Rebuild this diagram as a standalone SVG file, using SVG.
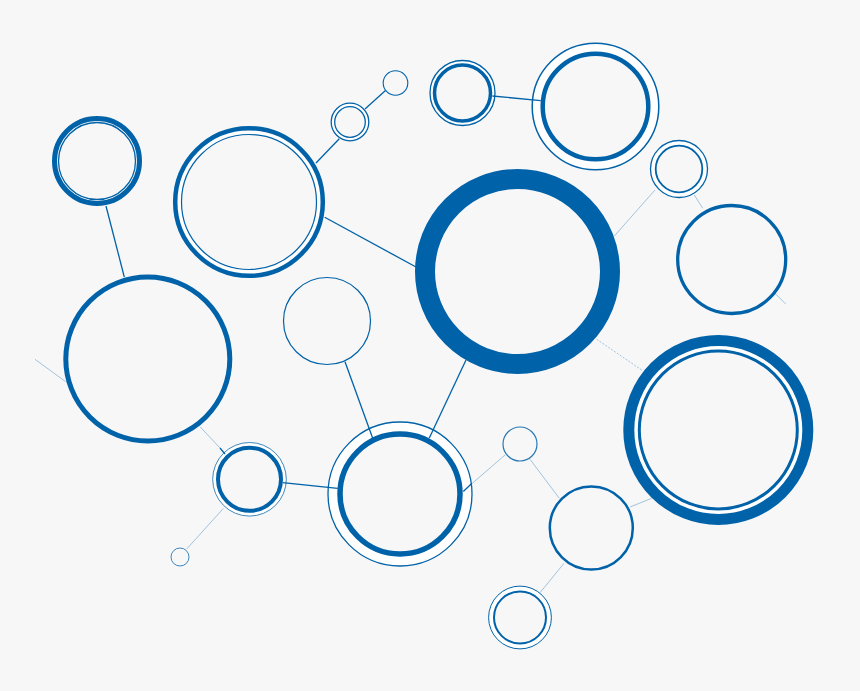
<svg xmlns="http://www.w3.org/2000/svg" width="860" height="691" viewBox="0 0 860 691">
<style>
.o{fill:#ffffff;stroke:#0062a8}
.i{fill:#f7f7f8;stroke:#0062a8}
.s{fill:none;stroke:#0062a8}
.d{stroke:#0062a8;stroke-width:1.3;fill:none}
.f{stroke:#0062a8;stroke-width:1;opacity:0.35;fill:none}
</style>
<rect width="860" height="691" fill="#f7f7f8"/>
<g id="c1"><circle class="o" cx="97" cy="161" r="42.5" stroke-width="5"/><circle class="i" cx="97" cy="161" r="38.5" stroke-width="1.3"/></g>
<g id="c2"><circle class="o" cx="249" cy="202" r="73.8" stroke-width="4.5"/><circle class="i" cx="249" cy="202" r="67.5" stroke-width="1.2"/></g>
<g id="c3"><circle class="o" cx="350" cy="122" r="18.8" stroke-width="1.3"/><circle class="i" cx="350" cy="122" r="15.3" stroke-width="1.3"/></g>
<g id="c4"><circle class="s" cx="395.5" cy="83" r="12.3" stroke-width="1.1"/></g>
<g id="c5"><circle class="o" cx="462.5" cy="93" r="32.5" stroke-width="1.3"/><circle class="i" cx="462.5" cy="93" r="28" stroke-width="3.5"/></g>
<g id="c6"><circle class="o" cx="595.5" cy="106.5" r="63.3" stroke-width="1.5"/><circle class="i" cx="595.5" cy="106.5" r="52.8" stroke-width="4.5"/></g>
<g id="c7"><circle class="s" cx="517.5" cy="271.5" r="92.5" stroke-width="20"/></g>
<g id="c8"><circle class="o" cx="679" cy="169" r="28.5" stroke-width="1.3"/><circle class="i" cx="679" cy="169" r="23.3" stroke-width="1.8"/></g>
<g id="c9"><circle class="s" cx="731.7" cy="259.5" r="54" stroke-width="3.3"/></g>
<g id="c10"><circle class="o" cx="718.3" cy="430" r="89.5" stroke-width="11"/><circle class="i" cx="718.3" cy="430" r="79" stroke-width="3"/></g>
<g id="c11"><circle class="s" cx="147.8" cy="359" r="82" stroke-width="5"/></g>
<g id="c12"><circle class="s" cx="327" cy="321" r="43.5" stroke-width="1.2"/></g>
<g id="c13"><circle class="o" cx="249.5" cy="479.3" r="36.8" stroke-width="1" stroke-opacity="0.75"/><circle class="i" cx="249.5" cy="479.3" r="31.5" stroke-width="4"/></g>
<g id="c14"><circle class="s" cx="180" cy="557" r="9" stroke-width="1" stroke-opacity="0.75"/></g>
<g id="c15"><circle class="o" cx="400" cy="494" r="72" stroke-width="1.3"/><circle class="i" cx="400" cy="494" r="60" stroke-width="5.5"/></g>
<g id="c16"><circle class="s" cx="520" cy="444" r="17" stroke-width="1.2" stroke-opacity="0.85"/></g>
<g id="c17"><circle class="s" cx="591.3" cy="528" r="41.5" stroke-width="2.5"/></g>
<g id="c18"><circle class="o" cx="520" cy="617.5" r="31.4" stroke-width="1"/><circle class="i" cx="520" cy="617.5" r="26" stroke-width="2"/></g>
<g id="connectors">
<line class="d" x1="106" y1="206" x2="124.3" y2="277" stroke-width="1"/>
<line class="d" x1="316" y1="163" x2="339.3" y2="138.7" stroke-width="1.2"/>
<line class="d" x1="365" y1="109" x2="385.5" y2="90.5" stroke-width="1.2"/>
<line class="d" x1="324.7" y1="217.3" x2="416" y2="267" stroke-width="1.2"/>
<line class="d" x1="492.3" y1="96" x2="540.7" y2="100.7" stroke-width="1.5"/>
<line class="f" x1="614.3" y1="236" x2="655" y2="190" opacity="0.55"/>
<line class="f" x1="694.3" y1="195" x2="702.7" y2="208.3"/>
<line class="f" x1="775" y1="293.3" x2="785.7" y2="304"/>
<line class="f" x1="596.7" y1="339.3" x2="642.7" y2="370.7" stroke-dasharray="2 1.5" opacity="0.5"/>
<line class="f" x1="35" y1="359.3" x2="65.7" y2="381.7"/>
<line class="f" x1="200" y1="426.7" x2="220" y2="448" opacity="0.55"/>
<line class="d" x1="220" y1="448" x2="225" y2="454" stroke-width="1.2"/>
<line class="d" x1="345" y1="361.7" x2="372.7" y2="438.3" stroke-width="1.8"/>
<line class="d" x1="466" y1="360" x2="429.3" y2="438" stroke-width="1.2"/>
<line class="d" x1="282.7" y1="482.7" x2="337.7" y2="488.3" stroke-width="1.5"/>
<line class="f" x1="223.3" y1="508.5" x2="186.7" y2="549"/>
<line class="f" x1="471.5" y1="484" x2="505" y2="455"/>
<line class="d" x1="463.3" y1="491.5" x2="471.7" y2="483.5" stroke-width="1.3"/>
<line class="f" x1="530" y1="459.3" x2="559.3" y2="498.3" opacity="0.3"/>
<line class="f" x1="630" y1="507" x2="651.7" y2="498.3"/>
<line class="f" x1="564" y1="563.3" x2="540" y2="592.7"/>
</g>
</svg>
